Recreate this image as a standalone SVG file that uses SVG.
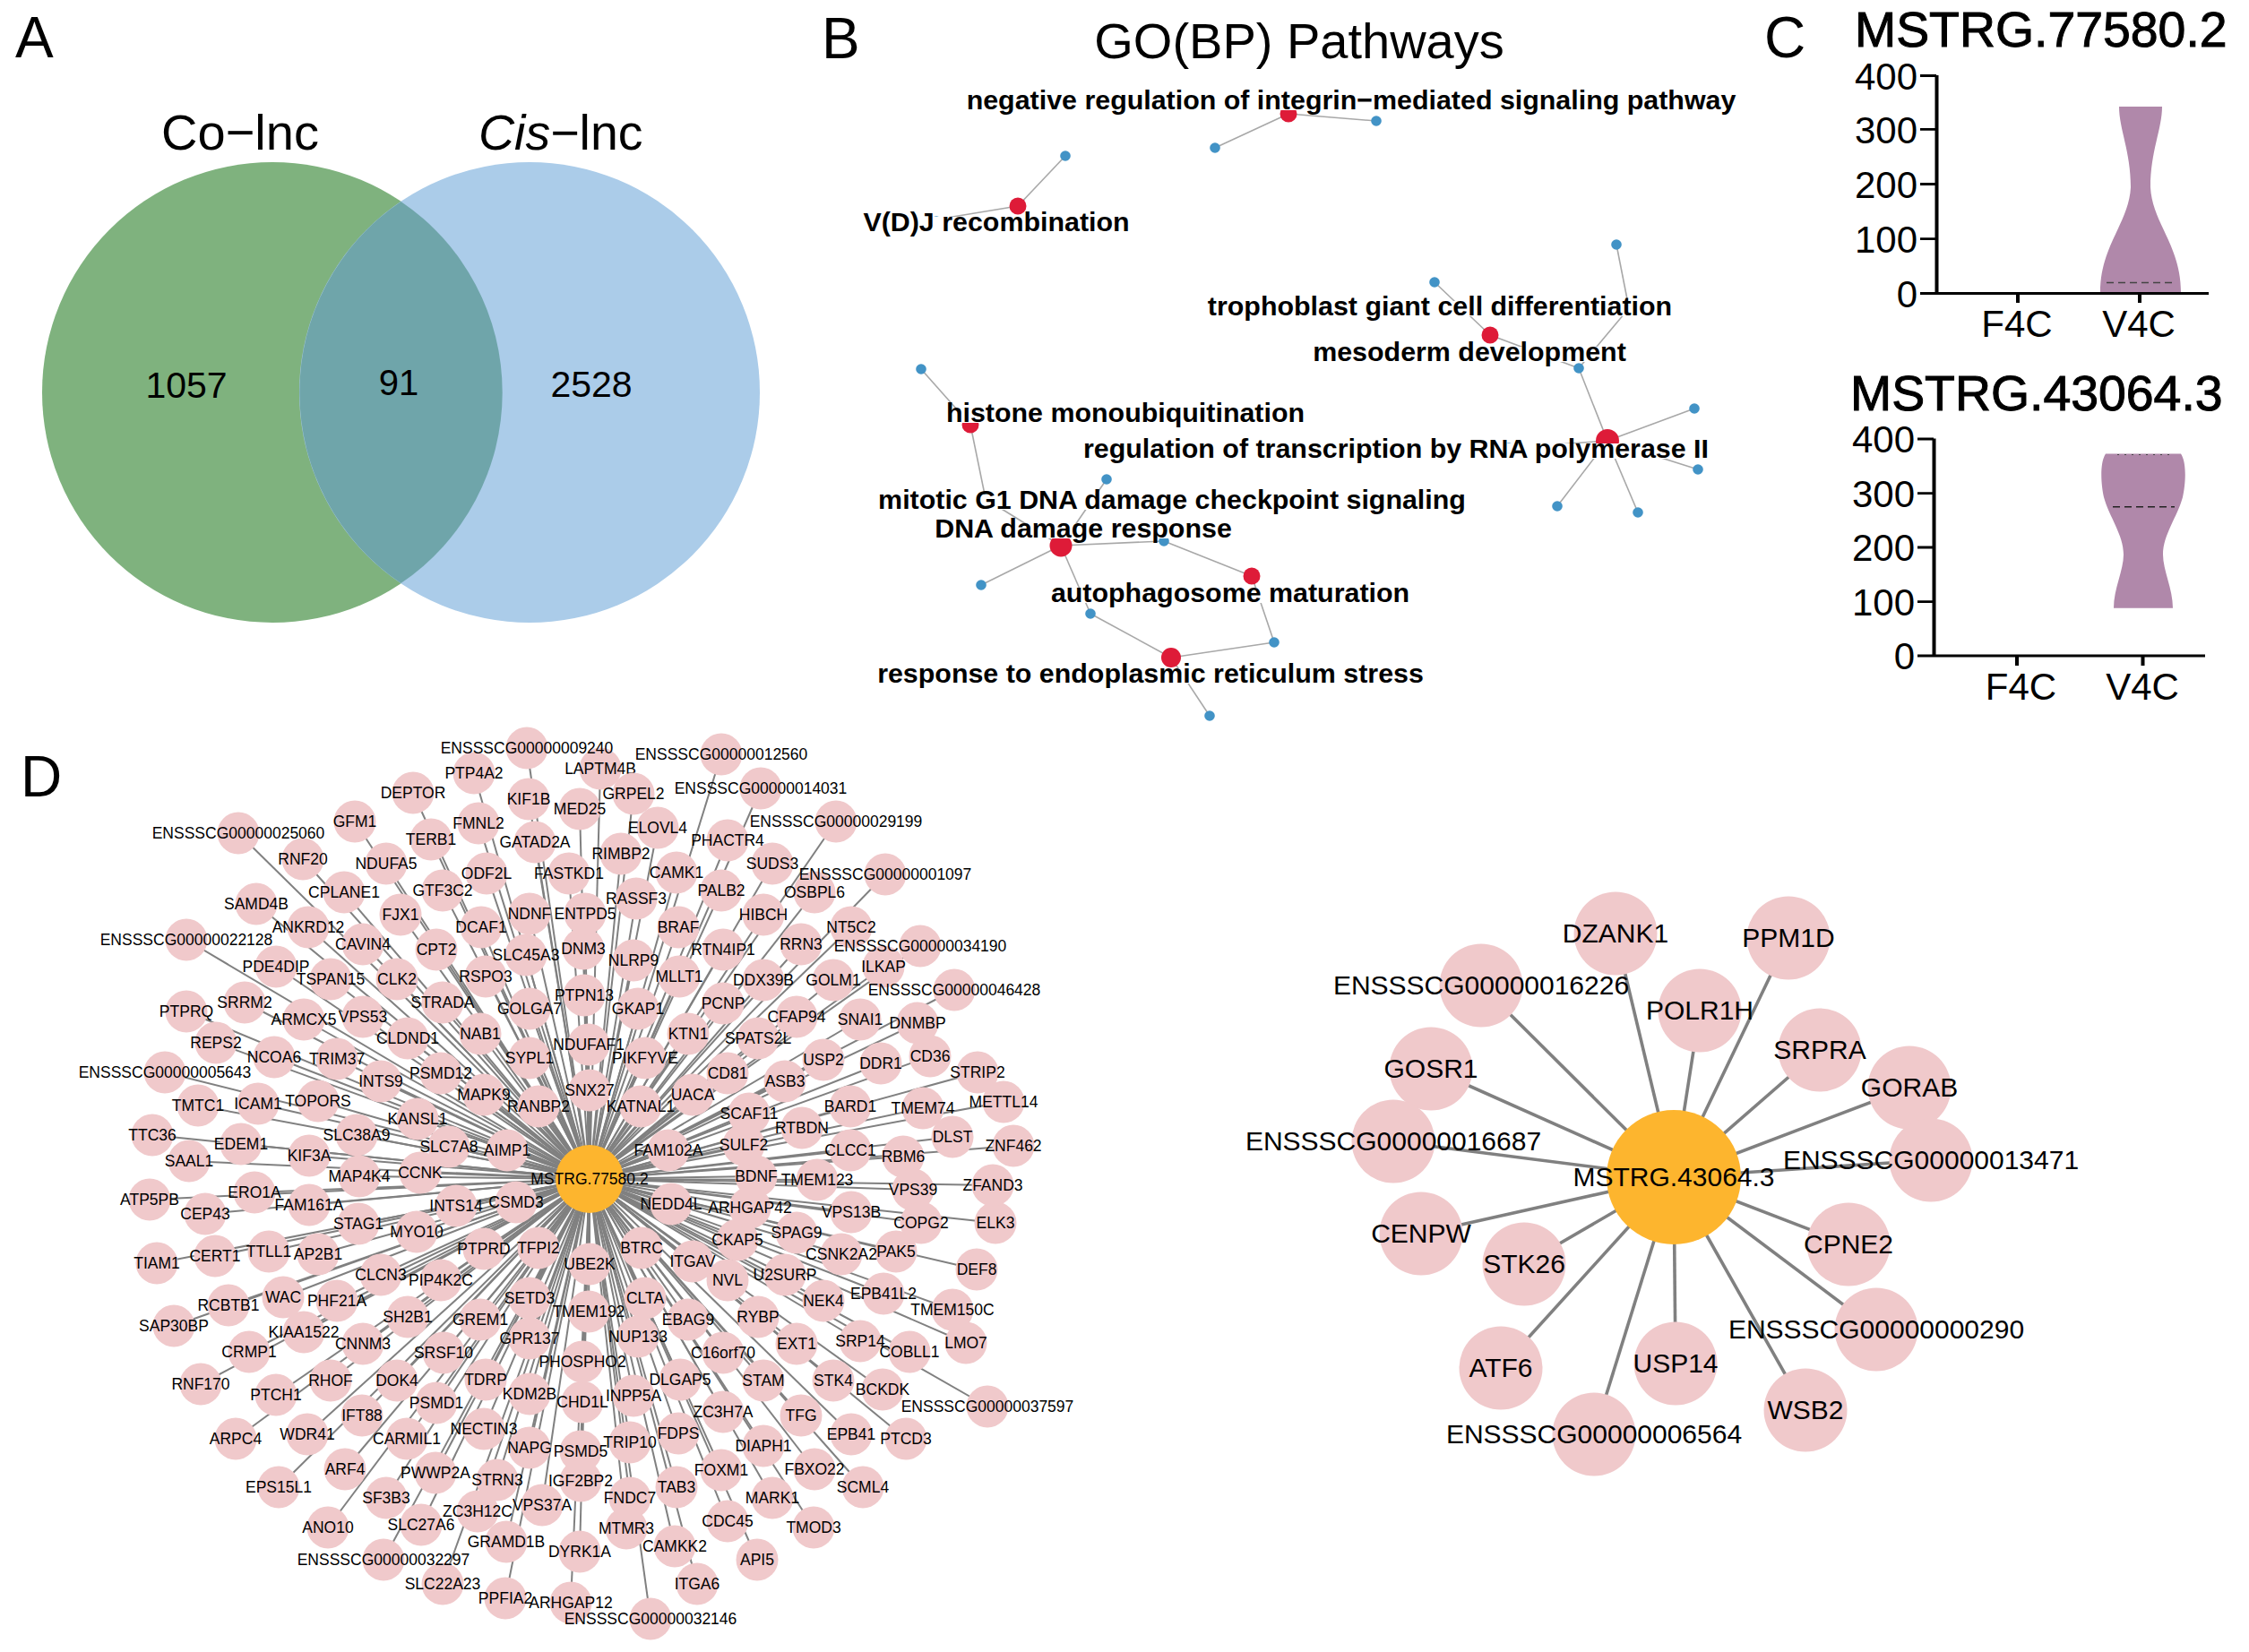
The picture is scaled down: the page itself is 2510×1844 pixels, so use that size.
<svg xmlns="http://www.w3.org/2000/svg" width="2510" height="1844" viewBox="0 0 2510 1844">
<style>
text{font-family:"Liberation Sans",Arial,sans-serif;fill:#000}
.big{font-size:64px}
.m{text-anchor:middle}
.e{text-anchor:end}
.ttl{font-size:55.400px;stroke:#000;stroke-width:1px}
.tk{font-size:42px}
.ax{stroke:#000;fill:none}
.vio{fill:#b088aa}
.gl{font-size:30.400px;font-weight:bold;text-anchor:middle}
.box{fill:#fff}
.ge line{stroke:#a8a8a8;stroke-width:1.6}
.red{fill:#de1b38}
.blu{fill:#4293c6}
.ce path{stroke:#808080;stroke-width:2;fill:none}
.ce2 path{stroke:#808080;stroke-width:3.600;fill:none}
.p{fill:#f0c9cb}
.o{fill:#fdb52e}
.s{font-size:17.500px;text-anchor:middle}
.l{font-size:30px;text-anchor:middle}
</style>
<rect width="2510" height="1844" fill="#fff"/>
<g id="panel-A">
<text class="big" x="17" y="64">A</text>
<circle cx="304" cy="438" r="257" fill="#7fb27e"/>
<circle cx="591" cy="438" r="257" fill="#abcce9"/>
<path d="M447.5 225A257 257 0 0 1 447.5 651A257 257 0 0 1 447.5 225Z" fill="#6fa5aa"/>
<text x="268" y="167" font-size="56" text-anchor="middle">Co−lnc</text>
<text x="534" y="167" font-size="55.500"><tspan font-style="italic">Cis</tspan>−lnc</text>
<text x="208" y="444" font-size="41" text-anchor="middle">1057</text>
<text x="445" y="441" font-size="40" text-anchor="middle">91</text>
<text x="660" y="443" font-size="41" text-anchor="middle">2528</text>
</g>
<g id="panel-B">
<text class="big" x="917" y="65">B</text>
<text x="1450" y="65" font-size="56" text-anchor="middle">GO(BP) Pathways</text>
<g id="go-connectors" class="ge">
<line x1="1438" y1="127" x2="1356" y2="165"/><line x1="1438" y1="127" x2="1536" y2="135"/>
<line x1="1136" y1="230" x2="1189" y2="174"/><line x1="1136" y1="230" x2="1045" y2="245"/>
<line x1="1663" y1="374" x2="1601" y2="315"/><line x1="1663" y1="374" x2="1762" y2="411"/>
<line x1="1818" y1="344" x2="1804" y2="273"/><line x1="1818" y1="344" x2="1762" y2="411"/>
<line x1="1794" y1="492" x2="1762" y2="411"/><line x1="1794" y1="492" x2="1891" y2="456"/><line x1="1794" y1="492" x2="1895" y2="524"/><line x1="1794" y1="492" x2="1738" y2="565"/><line x1="1794" y1="492" x2="1828" y2="572"/><line x1="1794" y1="492" x2="1684" y2="500"/>
<line x1="1083" y1="474" x2="1028" y2="412"/><line x1="1083" y1="474" x2="1100" y2="557"/>
<line x1="995" y1="561" x2="1100" y2="557"/>
<line x1="1184" y1="609" x2="1100" y2="557"/><line x1="1184" y1="609" x2="1235" y2="535"/><line x1="1184" y1="609" x2="1299" y2="604"/><line x1="1184" y1="609" x2="1095" y2="653"/><line x1="1184" y1="609" x2="1217" y2="685"/>
<line x1="1397" y1="643" x2="1299" y2="604"/><line x1="1397" y1="643" x2="1422" y2="717"/>
<line x1="1307" y1="734" x2="1217" y2="685"/><line x1="1307" y1="734" x2="1422" y2="717"/><line x1="1307" y1="734" x2="1350" y2="799"/>
</g>
<g id="go-nodes">
<g id="go-r1"><circle class="red" cx="1438" cy="127" r="9.5"/></g>
<g id="go-r2"><circle class="red" cx="1136" cy="230" r="9.5"/></g>
<g id="go-r3"><circle class="red" cx="1663" cy="374" r="9.5"/></g>
<g id="go-r4"><circle class="red" cx="1818" cy="344" r="7"/></g>
<g id="go-r5"><circle class="red" cx="1794" cy="492" r="13"/></g>
<g id="go-r6"><circle class="red" cx="1083" cy="474" r="9.5"/></g>
<g id="go-r7"><circle class="red" cx="995" cy="561" r="8"/></g>
<g id="go-r8"><circle class="red" cx="1184" cy="609" r="12.5"/></g>
<g id="go-r9"><circle class="red" cx="1397" cy="643" r="9.5"/></g>
<g id="go-r10"><circle class="red" cx="1307" cy="734" r="11"/></g>
<g id="go-b1"><circle class="blu" cx="1189" cy="174" r="5.8"/></g>
<g id="go-b2"><circle class="blu" cx="1356" cy="165" r="5.8"/></g>
<g id="go-b3"><circle class="blu" cx="1536" cy="135" r="5.8"/></g>
<g id="go-b4"><circle class="blu" cx="1045" cy="247" r="5.8"/></g>
<g id="go-b5"><circle class="blu" cx="1804" cy="273" r="5.8"/></g>
<g id="go-b6"><circle class="blu" cx="1601" cy="315" r="5.8"/></g>
<g id="go-b7"><circle class="blu" cx="1762" cy="411" r="5.8"/></g>
<g id="go-b8"><circle class="blu" cx="1891" cy="456" r="5.8"/></g>
<g id="go-b9"><circle class="blu" cx="1895" cy="524" r="5.8"/></g>
<g id="go-b10"><circle class="blu" cx="1738" cy="565" r="5.8"/></g>
<g id="go-b11"><circle class="blu" cx="1828" cy="572" r="5.8"/></g>
<g id="go-b12"><circle class="blu" cx="1684" cy="500" r="5.8"/></g>
<g id="go-b13"><circle class="blu" cx="1028" cy="412" r="5.8"/></g>
<g id="go-b14"><circle class="blu" cx="1100" cy="557" r="5.8"/></g>
<g id="go-b15"><circle class="blu" cx="1235" cy="535" r="5.8"/></g>
<g id="go-b16"><circle class="blu" cx="1299" cy="604" r="5.8"/></g>
<g id="go-b17"><circle class="blu" cx="1095" cy="653" r="5.8"/></g>
<g id="go-b18"><circle class="blu" cx="1217" cy="685" r="5.8"/></g>
<g id="go-b19"><circle class="blu" cx="1422" cy="717" r="5.8"/></g>
<g id="go-b20"><circle class="blu" cx="1350" cy="799" r="5.8"/></g>
</g>
<g id="go-labels">
<rect class="box" x="1080" y="106" width="867" height="17"/><text class="gl" x="1508" y="122">negative regulation of integrin−mediated signaling pathway</text>
<rect class="box" x="965" y="242" width="294" height="17"/><text class="gl" x="1112" y="258">V(D)J recombination</text>
<rect class="box" x="1350" y="336" width="514" height="17"/><text class="gl" x="1607" y="352">trophoblast giant cell differentiation</text>
<rect class="box" x="1466" y="387" width="347" height="17"/><text class="gl" x="1640" y="403">mesoderm development</text>
<rect class="box" x="1057" y="455" width="398" height="17"/><text class="gl" x="1256" y="471">histone monoubiquitination</text>
<rect class="box" x="1210" y="495" width="706" height="17"/><text class="gl" x="1558" y="511">regulation of transcription by RNA polymerase II</text>
<rect class="box" x="982" y="552" width="653" height="17"/><text class="gl" x="1308" y="568">mitotic G1 DNA damage checkpoint signaling</text>
<rect class="box" x="1043" y="584" width="331" height="17"/><text class="gl" x="1209" y="600">DNA damage response</text>
<rect class="box" x="1174" y="656" width="398" height="17"/><text class="gl" x="1373" y="672">autophagosome maturation</text>
<rect class="box" x="980" y="746" width="607" height="17"/><text class="gl" x="1284" y="762">response to endoplasmic reticulum stress</text>
</g>
</g>
<g id="panel-C">
<text class="big" x="1969" y="64">C</text>
<text class="ttl" x="2070" y="52">MSTRG.77580.2</text>
<path class="vio" d="M2365 119H2413C2413 144 2400 169 2400 209C2402 249 2434 274 2434 326H2344C2344 274 2376 249 2378 209C2378 169 2365 144 2365 119Z"/>
<path d="M2351 315.500H2428" stroke="#444" stroke-width="1.3" stroke-dasharray="8 5" fill="none"/>
<path class="ax" stroke-width="4" d="M2161.500 84V329"/>
<path class="ax" stroke-width="2.800" d="M2143 84.500H2161M2143 144.300H2161M2143 205.500H2161M2143 266.700H2161M2143 327.500H2465"/>
<path class="ax" stroke-width="4" d="M2252 327.500V338M2388 327.500V338"/>
<text class="tk e" x="2140" y="100">400</text><text class="tk e" x="2140" y="160">300</text><text class="tk e" x="2140" y="221">200</text><text class="tk e" x="2140" y="282">100</text><text class="tk e" x="2140" y="343">0</text>
<text class="tk m" x="2251" y="376">F4C</text><text class="tk m" x="2387" y="376">V4C</text>
<text class="ttl" x="2065" y="458">MSTRG.43064.3</text>
<path class="vio" d="M2350 506.500H2434C2441 517 2439 542 2436 555C2430 577 2414 597 2414 619C2414 637 2425 657 2425 678.700H2359C2359 657 2370 637 2370 619C2370 597 2354 577 2348 555C2345 542 2343 517 2350 506.500Z"/>
<path d="M2358 565.700H2427" stroke="#222" stroke-width="1.5" stroke-dasharray="8 5" fill="none"/>
<path d="M2363 507.500H2427" stroke="#444" stroke-width="1.2" stroke-dasharray="2 6" fill="none"/>
<path class="ax" stroke-width="4" d="M2158.500 489.500V733"/>
<path class="ax" stroke-width="2.800" d="M2140 490H2158M2140 550.700H2158M2140 611H2158M2140 671.700H2158M2140 732H2461"/>
<path class="ax" stroke-width="4" d="M2251 732V743M2391.500 732V743"/>
<text class="tk e" x="2137" y="505">400</text><text class="tk e" x="2137" y="566">300</text><text class="tk e" x="2137" y="626">200</text><text class="tk e" x="2137" y="687">100</text><text class="tk e" x="2137" y="747">0</text>
<text class="tk m" x="2255.500" y="781">F4C</text><text class="tk m" x="2391" y="781">V4C</text>
</g>
<text class="big" x="23" y="889">D</text>
<g id="net1-connectors" class="ce">
<path d="M658 1316L588 835"/><path d="M658 1316L529 863"/><path d="M658 1316L461 885"/><path d="M658 1316L590 892"/><path d="M658 1316L266 930"/><path d="M658 1316L396 917"/><path d="M658 1316L534 919"/><path d="M658 1316L481 937"/><path d="M658 1316L597 940"/><path d="M658 1316L338 959"/><path d="M658 1316L431 964"/><path d="M658 1316L543 975"/><path d="M658 1316L384 996"/><path d="M658 1316L494 994"/><path d="M658 1316L286 1009"/><path d="M658 1316L447 1021"/><path d="M658 1316L591 1020"/><path d="M658 1316L344 1035"/><path d="M658 1316L537 1035"/><path d="M658 1316L208 1049"/><path d="M658 1316L405 1054"/><path d="M658 1316L487 1060"/><path d="M658 1316L587 1066"/><path d="M658 1316L308 1079"/><path d="M658 1316L369 1093"/><path d="M658 1316L443 1093"/><path d="M658 1316L542 1090"/><path d="M658 1316L494 1119"/><path d="M658 1316L273 1119"/><path d="M658 1316L208 1129"/><path d="M658 1316L591 1126"/><path d="M658 1316L339 1138"/><path d="M658 1316L405 1135"/><path d="M658 1316L536 1154"/><path d="M658 1316L455 1159"/><path d="M658 1316L241 1164"/><path d="M658 1316L306 1180"/><path d="M658 1316L376 1182"/><path d="M658 1316L591 1181"/><path d="M658 1316L492 1198"/><path d="M658 1316L425 1207"/><path d="M658 1316L184 1197"/><path d="M658 1316L540 1222"/><path d="M658 1316L601 1235"/><path d="M658 1316L355 1229"/><path d="M658 1316L288 1232"/><path d="M658 1316L221 1234"/><path d="M658 1316L466 1249"/><path d="M658 1316L398 1267"/><path d="M658 1316L170 1267"/><path d="M658 1316L269 1277"/><path d="M658 1316L501 1280"/><path d="M658 1316L566 1284"/><path d="M658 1316L345 1290"/><path d="M658 1316L211 1296"/><path d="M658 1316L401 1313"/><path d="M658 1316L469 1309"/>
<path d="M658 1316L167 1339"/><path d="M658 1316L284 1331"/><path d="M658 1316L229 1355"/><path d="M658 1316L345 1345"/><path d="M658 1316L509 1346"/><path d="M658 1316L576 1342"/><path d="M658 1316L400 1366"/><path d="M658 1316L465 1375"/><path d="M658 1316L175 1410"/><path d="M658 1316L240 1402"/><path d="M658 1316L300 1397"/><path d="M658 1316L355 1400"/><path d="M658 1316L540 1394"/><path d="M658 1316L601 1393"/><path d="M658 1316L425 1423"/><path d="M658 1316L492 1429"/><path d="M658 1316L316 1448"/><path d="M658 1316L376 1452"/><path d="M658 1316L255 1457"/><path d="M658 1316L591 1449"/><path d="M658 1316L455 1470"/><path d="M658 1316L536 1473"/><path d="M658 1316L194 1480"/><path d="M658 1316L339 1487"/><path d="M658 1316L405 1500"/><path d="M658 1316L591 1494"/><path d="M658 1316L278 1509"/><path d="M658 1316L495 1510"/><path d="M658 1316L369 1541"/><path d="M658 1316L443 1541"/><path d="M658 1316L542 1540"/><path d="M658 1316L224 1545"/><path d="M658 1316L308 1557"/><path d="M658 1316L591 1556"/><path d="M658 1316L487 1566"/><path d="M658 1316L404 1580"/><path d="M658 1316L343 1601"/><path d="M658 1316L540 1595"/><path d="M658 1316L263 1606"/><path d="M658 1316L454 1606"/><path d="M658 1316L591 1616"/><path d="M658 1316L385 1640"/><path d="M658 1316L486 1644"/><path d="M658 1316L555 1652"/><path d="M658 1316L311 1660"/><path d="M658 1316L605 1680"/><path d="M658 1316L431 1672"/><path d="M658 1316L533 1687"/><path d="M658 1316L470 1702"/><path d="M658 1316L366 1705"/><path d="M658 1316L565 1721"/><path d="M658 1316L428 1741"/><path d="M658 1316L494 1768"/><path d="M658 1316L564 1784"/>
<path d="M658 1316L805 842"/><path d="M658 1316L670 858"/><path d="M658 1316L849 880"/><path d="M658 1316L707 886"/><path d="M658 1316L647 903"/><path d="M658 1316L933 917"/><path d="M658 1316L734 924"/><path d="M658 1316L812 938"/><path d="M658 1316L693 953"/><path d="M658 1316L862 964"/><path d="M658 1316L635 975"/><path d="M658 1316L755 974"/><path d="M658 1316L988 976"/><path d="M658 1316L805 994"/><path d="M658 1316L909 996"/><path d="M658 1316L710 1003"/><path d="M658 1316L653 1020"/><path d="M658 1316L852 1021"/><path d="M658 1316L950 1035"/><path d="M658 1316L757 1035"/><path d="M658 1316L894 1054"/><path d="M658 1316L1027 1056"/><path d="M658 1316L651 1059"/><path d="M658 1316L807 1060"/><path d="M658 1316L707 1072"/><path d="M658 1316L986 1079"/><path d="M658 1316L758 1090"/><path d="M658 1316L852 1094"/><path d="M658 1316L930 1094"/><path d="M658 1316L1065 1105"/><path d="M658 1316L652 1111"/><path d="M658 1316L807 1120"/><path d="M658 1316L712 1126"/><path d="M658 1316L889 1135"/><path d="M658 1316L960 1138"/><path d="M658 1316L1024 1142"/><path d="M658 1316L768 1154"/><path d="M658 1316L846 1159"/><path d="M658 1316L657 1166"/><path d="M658 1316L720 1181"/><path d="M658 1316L919 1183"/><path d="M658 1316L1038 1179"/><path d="M658 1316L983 1187"/><path d="M658 1316L812 1198"/><path d="M658 1316L1091 1197"/><path d="M658 1316L876 1207"/><path d="M658 1316L658 1217"/><path d="M658 1316L773 1222"/><path d="M658 1316L715 1235"/><path d="M658 1316L1120 1230"/><path d="M658 1316L949 1235"/><path d="M658 1316L1030 1237"/><path d="M658 1316L836 1243"/><path d="M658 1316L895 1259"/><path d="M658 1316L1063 1269"/><path d="M658 1316L1131 1279"/><path d="M658 1316L830 1278"/><path d="M658 1316L949 1284"/><path d="M658 1316L746 1284"/><path d="M658 1316L1008 1291"/><path d="M658 1316L844 1313"/><path d="M658 1316L912 1317"/><path d="M658 1316L1108 1323"/>
<path d="M658 1316L1019 1328"/><path d="M658 1316L749 1344"/><path d="M658 1316L837 1348"/><path d="M658 1316L950 1353"/><path d="M658 1316L1028 1365"/><path d="M658 1316L1111 1365"/><path d="M658 1316L889 1376"/><path d="M658 1316L823 1384"/><path d="M658 1316L716 1393"/><path d="M658 1316L939 1400"/><path d="M658 1316L1000 1397"/><path d="M658 1316L773 1408"/><path d="M658 1316L1090 1417"/><path d="M658 1316L658 1411"/><path d="M658 1316L812 1429"/><path d="M658 1316L876 1423"/><path d="M658 1316L919 1452"/><path d="M658 1316L986 1444"/><path d="M658 1316L1063 1462"/><path d="M658 1316L720 1449"/><path d="M658 1316L657 1464"/><path d="M658 1316L768 1473"/><path d="M658 1316L846 1470"/><path d="M658 1316L712 1492"/><path d="M658 1316L889 1500"/><path d="M658 1316L960 1497"/><path d="M658 1316L1078 1499"/><path d="M658 1316L1015 1509"/><path d="M658 1316L807 1510"/><path d="M658 1316L650 1520"/><path d="M658 1316L759 1540"/><path d="M658 1316L852 1541"/><path d="M658 1316L930 1541"/><path d="M658 1316L985 1551"/><path d="M658 1316L707 1558"/><path d="M658 1316L1102 1570"/><path d="M658 1316L650 1565"/><path d="M658 1316L807 1576"/><path d="M658 1316L894 1580"/><path d="M658 1316L950 1601"/><path d="M658 1316L1011 1606"/><path d="M658 1316L757 1600"/><path d="M658 1316L648 1620"/><path d="M658 1316L703 1610"/><path d="M658 1316L852 1614"/><path d="M658 1316L805 1641"/><path d="M658 1316L909 1640"/><path d="M658 1316L648 1653"/><path d="M658 1316L963 1660"/><path d="M658 1316L755 1660"/><path d="M658 1316L703 1672"/><path d="M658 1316L862 1672"/><path d="M658 1316L812 1698"/><path d="M658 1316L908 1705"/><path d="M658 1316L699 1706"/><path d="M658 1316L753 1726"/><path d="M658 1316L647 1732"/><path d="M658 1316L845 1741"/><path d="M658 1316L778 1768"/><path d="M658 1316L637 1789"/><path d="M658 1316L726 1807"/>
</g>
<g id="net1-nodes">
<g id="n-LAPTM4B"><circle class="p" cx="670" cy="858" r="23.500"/><text class="s" x="670" y="864">LAPTM4B</text></g>
<g id="n-NVL"><circle class="p" cx="812" cy="1429" r="23.500"/><text class="s" x="812" y="1435">NVL</text></g>
<g id="n-TFG"><circle class="p" cx="894" cy="1580" r="23.500"/><text class="s" x="894" y="1586">TFG</text></g>
<g id="n-WAC"><circle class="p" cx="316" cy="1448" r="23.500"/><text class="s" x="316" y="1454">WAC</text></g>
<g id="n-GFM1"><circle class="p" cx="396" cy="917" r="23.500"/><text class="s" x="396" y="923">GFM1</text></g>
<g id="n-CPT2"><circle class="p" cx="487" cy="1060" r="23.500"/><text class="s" x="487" y="1066">CPT2</text></g>
<g id="n-CLK2"><circle class="p" cx="443" cy="1093" r="23.500"/><text class="s" x="443" y="1099">CLK2</text></g>
<g id="n-FJX1"><circle class="p" cx="447" cy="1021" r="23.500"/><text class="s" x="447" y="1027">FJX1</text></g>
<g id="n-NAB1"><circle class="p" cx="536" cy="1154" r="23.500"/><text class="s" x="536" y="1160">NAB1</text></g>
<g id="n-NDNF"><circle class="p" cx="591" cy="1020" r="23.500"/><text class="s" x="591" y="1026">NDNF</text></g>
<g id="n-CCNK"><circle class="p" cx="469" cy="1309" r="23.500"/><text class="s" x="469" y="1315">CCNK</text></g>
<g id="n-RHOF"><circle class="p" cx="369" cy="1541" r="23.500"/><text class="s" x="369" y="1547">RHOF</text></g>
<g id="n-DOK4"><circle class="p" cx="443" cy="1541" r="23.500"/><text class="s" x="443" y="1547">DOK4</text></g>
<g id="n-TDRP"><circle class="p" cx="542" cy="1540" r="23.500"/><text class="s" x="542" y="1546">TDRP</text></g>
<g id="n-NAPG"><circle class="p" cx="591" cy="1616" r="23.500"/><text class="s" x="591" y="1622">NAPG</text></g>
<g id="n-ARF4"><circle class="p" cx="385" cy="1640" r="23.500"/><text class="s" x="385" y="1646">ARF4</text></g>
<g id="n-BRAF"><circle class="p" cx="757" cy="1035" r="23.500"/><text class="s" x="757" y="1041">BRAF</text></g>
<g id="n-RRN3"><circle class="p" cx="894" cy="1054" r="23.500"/><text class="s" x="894" y="1060">RRN3</text></g>
<g id="n-DNM3"><circle class="p" cx="651" cy="1059" r="23.500"/><text class="s" x="651" y="1065">DNM3</text></g>
<g id="n-PCNP"><circle class="p" cx="807" cy="1120" r="23.500"/><text class="s" x="807" y="1126">PCNP</text></g>
<g id="n-KTN1"><circle class="p" cx="768" cy="1154" r="23.500"/><text class="s" x="768" y="1160">KTN1</text></g>
<g id="n-USP2"><circle class="p" cx="919" cy="1183" r="23.500"/><text class="s" x="919" y="1189">USP2</text></g>
<g id="n-CD36"><circle class="p" cx="1038" cy="1179" r="23.500"/><text class="s" x="1038" y="1185">CD36</text></g>
<g id="n-DDR1"><circle class="p" cx="983" cy="1187" r="23.500"/><text class="s" x="983" y="1193">DDR1</text></g>
<g id="n-CD81"><circle class="p" cx="812" cy="1198" r="23.500"/><text class="s" x="812" y="1204">CD81</text></g>
<g id="n-ASB3"><circle class="p" cx="876" cy="1207" r="23.500"/><text class="s" x="876" y="1213">ASB3</text></g>
<g id="n-UACA"><circle class="p" cx="773" cy="1222" r="23.500"/><text class="s" x="773" y="1228">UACA</text></g>
<g id="n-DLST"><circle class="p" cx="1063" cy="1269" r="23.500"/><text class="s" x="1063" y="1275">DLST</text></g>
<g id="n-RBM6"><circle class="p" cx="1008" cy="1291" r="23.500"/><text class="s" x="1008" y="1297">RBM6</text></g>
<g id="n-BDNF"><circle class="p" cx="844" cy="1313" r="23.500"/><text class="s" x="844" y="1319">BDNF</text></g>
<g id="n-ELK3"><circle class="p" cx="1111" cy="1365" r="23.500"/><text class="s" x="1111" y="1371">ELK3</text></g>
<g id="n-BTRC"><circle class="p" cx="716" cy="1393" r="23.500"/><text class="s" x="716" y="1399">BTRC</text></g>
<g id="n-PAK5"><circle class="p" cx="1000" cy="1397" r="23.500"/><text class="s" x="1000" y="1403">PAK5</text></g>
<g id="n-DEF8"><circle class="p" cx="1090" cy="1417" r="23.500"/><text class="s" x="1090" y="1423">DEF8</text></g>
<g id="n-NEK4"><circle class="p" cx="919" cy="1452" r="23.500"/><text class="s" x="919" y="1458">NEK4</text></g>
<g id="n-CLTA"><circle class="p" cx="720" cy="1449" r="23.500"/><text class="s" x="720" y="1455">CLTA</text></g>
<g id="n-RYBP"><circle class="p" cx="846" cy="1470" r="23.500"/><text class="s" x="846" y="1476">RYBP</text></g>
<g id="n-EXT1"><circle class="p" cx="889" cy="1500" r="23.500"/><text class="s" x="889" y="1506">EXT1</text></g>
<g id="n-LMO7"><circle class="p" cx="1078" cy="1499" r="23.500"/><text class="s" x="1078" y="1505">LMO7</text></g>
<g id="n-STAM"><circle class="p" cx="852" cy="1541" r="23.500"/><text class="s" x="852" y="1547">STAM</text></g>
<g id="n-STK4"><circle class="p" cx="930" cy="1541" r="23.500"/><text class="s" x="930" y="1547">STK4</text></g>
<g id="n-FDPS"><circle class="p" cx="757" cy="1600" r="23.500"/><text class="s" x="757" y="1606">FDPS</text></g>
<g id="n-TAB3"><circle class="p" cx="755" cy="1660" r="23.500"/><text class="s" x="755" y="1666">TAB3</text></g>
<g id="n-API5"><circle class="p" cx="845" cy="1741" r="23.500"/><text class="s" x="845" y="1747">API5</text></g>
<g id="n-KIF1B"><circle class="p" cx="590" cy="892" r="23.500"/><text class="s" x="590" y="898">KIF1B</text></g>
<g id="n-FMNL2"><circle class="p" cx="534" cy="919" r="23.500"/><text class="s" x="534" y="925">FMNL2</text></g>
<g id="n-TERB1"><circle class="p" cx="481" cy="937" r="23.500"/><text class="s" x="481" y="943">TERB1</text></g>
<g id="n-RNF20"><circle class="p" cx="338" cy="959" r="23.500"/><text class="s" x="338" y="965">RNF20</text></g>
<g id="n-ODF2L"><circle class="p" cx="543" cy="975" r="23.500"/><text class="s" x="543" y="981">ODF2L</text></g>
<g id="n-DCAF1"><circle class="p" cx="537" cy="1035" r="23.500"/><text class="s" x="537" y="1041">DCAF1</text></g>
<g id="n-RSPO3"><circle class="p" cx="542" cy="1090" r="23.500"/><text class="s" x="542" y="1096">RSPO3</text></g>
<g id="n-SRRM2"><circle class="p" cx="273" cy="1119" r="23.500"/><text class="s" x="273" y="1125">SRRM2</text></g>
<g id="n-PTPRQ"><circle class="p" cx="208" cy="1129" r="23.500"/><text class="s" x="208" y="1135">PTPRQ</text></g>
<g id="n-VPS53"><circle class="p" cx="405" cy="1135" r="23.500"/><text class="s" x="405" y="1141">VPS53</text></g>
<g id="n-REPS2"><circle class="p" cx="241" cy="1164" r="23.500"/><text class="s" x="241" y="1170">REPS2</text></g>
<g id="n-NCOA6"><circle class="p" cx="306" cy="1180" r="23.500"/><text class="s" x="306" y="1186">NCOA6</text></g>
<g id="n-SYPL1"><circle class="p" cx="591" cy="1181" r="23.500"/><text class="s" x="591" y="1187">SYPL1</text></g>
<g id="n-INTS9"><circle class="p" cx="425" cy="1207" r="23.500"/><text class="s" x="425" y="1213">INTS9</text></g>
<g id="n-MAPK9"><circle class="p" cx="540" cy="1222" r="23.500"/><text class="s" x="540" y="1228">MAPK9</text></g>
<g id="n-ICAM1"><circle class="p" cx="288" cy="1232" r="23.500"/><text class="s" x="288" y="1238">ICAM1</text></g>
<g id="n-TMTC1"><circle class="p" cx="221" cy="1234" r="23.500"/><text class="s" x="221" y="1240">TMTC1</text></g>
<g id="n-TTC36"><circle class="p" cx="170" cy="1267" r="23.500"/><text class="s" x="170" y="1273">TTC36</text></g>
<g id="n-EDEM1"><circle class="p" cx="269" cy="1277" r="23.500"/><text class="s" x="269" y="1283">EDEM1</text></g>
<g id="n-AIMP1"><circle class="p" cx="566" cy="1284" r="23.500"/><text class="s" x="566" y="1290">AIMP1</text></g>
<g id="n-KIF3A"><circle class="p" cx="345" cy="1290" r="23.500"/><text class="s" x="345" y="1296">KIF3A</text></g>
<g id="n-SAAL1"><circle class="p" cx="211" cy="1296" r="23.500"/><text class="s" x="211" y="1302">SAAL1</text></g>
<g id="n-ERO1A"><circle class="p" cx="284" cy="1331" r="23.500"/><text class="s" x="284" y="1337">ERO1A</text></g>
<g id="n-CEP43"><circle class="p" cx="229" cy="1355" r="23.500"/><text class="s" x="229" y="1361">CEP43</text></g>
<g id="n-CSMD3"><circle class="p" cx="576" cy="1342" r="23.500"/><text class="s" x="576" y="1348">CSMD3</text></g>
<g id="n-STAG1"><circle class="p" cx="400" cy="1366" r="23.500"/><text class="s" x="400" y="1372">STAG1</text></g>
<g id="n-MYO10"><circle class="p" cx="465" cy="1375" r="23.500"/><text class="s" x="465" y="1381">MYO10</text></g>
<g id="n-TIAM1"><circle class="p" cx="175" cy="1410" r="23.500"/><text class="s" x="175" y="1416">TIAM1</text></g>
<g id="n-CERT1"><circle class="p" cx="240" cy="1402" r="23.500"/><text class="s" x="240" y="1408">CERT1</text></g>
<g id="n-TTLL1"><circle class="p" cx="300" cy="1397" r="23.500"/><text class="s" x="300" y="1403">TTLL1</text></g>
<g id="n-AP2B1"><circle class="p" cx="355" cy="1400" r="23.500"/><text class="s" x="355" y="1406">AP2B1</text></g>
<g id="n-PTPRD"><circle class="p" cx="540" cy="1394" r="23.500"/><text class="s" x="540" y="1400">PTPRD</text></g>
<g id="n-TFPI2"><circle class="p" cx="601" cy="1393" r="23.500"/><text class="s" x="601" y="1399">TFPI2</text></g>
<g id="n-CLCN3"><circle class="p" cx="425" cy="1423" r="23.500"/><text class="s" x="425" y="1429">CLCN3</text></g>
<g id="n-SETD3"><circle class="p" cx="591" cy="1449" r="23.500"/><text class="s" x="591" y="1455">SETD3</text></g>
<g id="n-SH2B1"><circle class="p" cx="455" cy="1470" r="23.500"/><text class="s" x="455" y="1476">SH2B1</text></g>
<g id="n-GREM1"><circle class="p" cx="536" cy="1473" r="23.500"/><text class="s" x="536" y="1479">GREM1</text></g>
<g id="n-CRMP1"><circle class="p" cx="278" cy="1509" r="23.500"/><text class="s" x="278" y="1515">CRMP1</text></g>
<g id="n-PTCH1"><circle class="p" cx="308" cy="1557" r="23.500"/><text class="s" x="308" y="1563">PTCH1</text></g>
<g id="n-KDM2B"><circle class="p" cx="591" cy="1556" r="23.500"/><text class="s" x="591" y="1562">KDM2B</text></g>
<g id="n-PSMD1"><circle class="p" cx="487" cy="1566" r="23.500"/><text class="s" x="487" y="1572">PSMD1</text></g>
<g id="n-IFT88"><circle class="p" cx="404" cy="1580" r="23.500"/><text class="s" x="404" y="1586">IFT88</text></g>
<g id="n-WDR41"><circle class="p" cx="343" cy="1601" r="23.500"/><text class="s" x="343" y="1607">WDR41</text></g>
<g id="n-ARPC4"><circle class="p" cx="263" cy="1606" r="23.500"/><text class="s" x="263" y="1612">ARPC4</text></g>
<g id="n-STRN3"><circle class="p" cx="555" cy="1652" r="23.500"/><text class="s" x="555" y="1658">STRN3</text></g>
<g id="n-SF3B3"><circle class="p" cx="431" cy="1672" r="23.500"/><text class="s" x="431" y="1678">SF3B3</text></g>
<g id="n-ANO10"><circle class="p" cx="366" cy="1705" r="23.500"/><text class="s" x="366" y="1711">ANO10</text></g>
<g id="n-MED25"><circle class="p" cx="647" cy="903" r="23.500"/><text class="s" x="647" y="909">MED25</text></g>
<g id="n-SUDS3"><circle class="p" cx="862" cy="964" r="23.500"/><text class="s" x="862" y="970">SUDS3</text></g>
<g id="n-CAMK1"><circle class="p" cx="755" cy="974" r="23.500"/><text class="s" x="755" y="980">CAMK1</text></g>
<g id="n-PALB2"><circle class="p" cx="805" cy="994" r="23.500"/><text class="s" x="805" y="1000">PALB2</text></g>
<g id="n-HIBCH"><circle class="p" cx="852" cy="1021" r="23.500"/><text class="s" x="852" y="1027">HIBCH</text></g>
<g id="n-NT5C2"><circle class="p" cx="950" cy="1035" r="23.500"/><text class="s" x="950" y="1041">NT5C2</text></g>
<g id="n-NLRP9"><circle class="p" cx="707" cy="1072" r="23.500"/><text class="s" x="707" y="1078">NLRP9</text></g>
<g id="n-ILKAP"><circle class="p" cx="986" cy="1079" r="23.500"/><text class="s" x="986" y="1085">ILKAP</text></g>
<g id="n-MLLT1"><circle class="p" cx="758" cy="1090" r="23.500"/><text class="s" x="758" y="1096">MLLT1</text></g>
<g id="n-GOLM1"><circle class="p" cx="930" cy="1094" r="23.500"/><text class="s" x="930" y="1100">GOLM1</text></g>
<g id="n-GKAP1"><circle class="p" cx="712" cy="1126" r="23.500"/><text class="s" x="712" y="1132">GKAP1</text></g>
<g id="n-SNAI1"><circle class="p" cx="960" cy="1138" r="23.500"/><text class="s" x="960" y="1144">SNAI1</text></g>
<g id="n-SNX27"><circle class="p" cx="658" cy="1217" r="23.500"/><text class="s" x="658" y="1223">SNX27</text></g>
<g id="n-BARD1"><circle class="p" cx="949" cy="1235" r="23.500"/><text class="s" x="949" y="1241">BARD1</text></g>
<g id="n-RTBDN"><circle class="p" cx="895" cy="1259" r="23.500"/><text class="s" x="895" y="1265">RTBDN</text></g>
<g id="n-SULF2"><circle class="p" cx="830" cy="1278" r="23.500"/><text class="s" x="830" y="1284">SULF2</text></g>
<g id="n-CLCC1"><circle class="p" cx="949" cy="1284" r="23.500"/><text class="s" x="949" y="1290">CLCC1</text></g>
<g id="n-VPS39"><circle class="p" cx="1019" cy="1328" r="23.500"/><text class="s" x="1019" y="1334">VPS39</text></g>
<g id="n-COPG2"><circle class="p" cx="1028" cy="1365" r="23.500"/><text class="s" x="1028" y="1371">COPG2</text></g>
<g id="n-SPAG9"><circle class="p" cx="889" cy="1376" r="23.500"/><text class="s" x="889" y="1382">SPAG9</text></g>
<g id="n-CKAP5"><circle class="p" cx="823" cy="1384" r="23.500"/><text class="s" x="823" y="1390">CKAP5</text></g>
<g id="n-ITGAV"><circle class="p" cx="773" cy="1408" r="23.500"/><text class="s" x="773" y="1414">ITGAV</text></g>
<g id="n-UBE2K"><circle class="p" cx="658" cy="1411" r="23.500"/><text class="s" x="658" y="1417">UBE2K</text></g>
<g id="n-EBAG9"><circle class="p" cx="768" cy="1473" r="23.500"/><text class="s" x="768" y="1479">EBAG9</text></g>
<g id="n-SRP14"><circle class="p" cx="960" cy="1497" r="23.500"/><text class="s" x="960" y="1503">SRP14</text></g>
<g id="n-BCKDK"><circle class="p" cx="985" cy="1551" r="23.500"/><text class="s" x="985" y="1557">BCKDK</text></g>
<g id="n-CHD1L"><circle class="p" cx="650" cy="1565" r="23.500"/><text class="s" x="650" y="1571">CHD1L</text></g>
<g id="n-EPB41"><circle class="p" cx="950" cy="1601" r="23.500"/><text class="s" x="950" y="1607">EPB41</text></g>
<g id="n-PTCD3"><circle class="p" cx="1011" cy="1606" r="23.500"/><text class="s" x="1011" y="1612">PTCD3</text></g>
<g id="n-PSMD5"><circle class="p" cx="648" cy="1620" r="23.500"/><text class="s" x="648" y="1626">PSMD5</text></g>
<g id="n-FOXM1"><circle class="p" cx="805" cy="1641" r="23.500"/><text class="s" x="805" y="1647">FOXM1</text></g>
<g id="n-SCML4"><circle class="p" cx="963" cy="1660" r="23.500"/><text class="s" x="963" y="1666">SCML4</text></g>
<g id="n-FNDC7"><circle class="p" cx="703" cy="1672" r="23.500"/><text class="s" x="703" y="1678">FNDC7</text></g>
<g id="n-MARK1"><circle class="p" cx="862" cy="1672" r="23.500"/><text class="s" x="862" y="1678">MARK1</text></g>
<g id="n-CDC45"><circle class="p" cx="812" cy="1698" r="23.500"/><text class="s" x="812" y="1704">CDC45</text></g>
<g id="n-TMOD3"><circle class="p" cx="908" cy="1705" r="23.500"/><text class="s" x="908" y="1711">TMOD3</text></g>
<g id="n-MTMR3"><circle class="p" cx="699" cy="1706" r="23.500"/><text class="s" x="699" y="1712">MTMR3</text></g>
<g id="n-ITGA6"><circle class="p" cx="778" cy="1768" r="23.500"/><text class="s" x="778" y="1774">ITGA6</text></g>
<g id="n-PTP4A2"><circle class="p" cx="529" cy="863" r="23.500"/><text class="s" x="529" y="869">PTP4A2</text></g>
<g id="n-DEPTOR"><circle class="p" cx="461" cy="885" r="23.500"/><text class="s" x="461" y="891">DEPTOR</text></g>
<g id="n-NDUFA5"><circle class="p" cx="431" cy="964" r="23.500"/><text class="s" x="431" y="970">NDUFA5</text></g>
<g id="n-GTF3C2"><circle class="p" cx="494" cy="994" r="23.500"/><text class="s" x="494" y="1000">GTF3C2</text></g>
<g id="n-SAMD4B"><circle class="p" cx="286" cy="1009" r="23.500"/><text class="s" x="286" y="1015">SAMD4B</text></g>
<g id="n-CAVIN4"><circle class="p" cx="405" cy="1054" r="23.500"/><text class="s" x="405" y="1060">CAVIN4</text></g>
<g id="n-STRADA"><circle class="p" cx="494" cy="1119" r="23.500"/><text class="s" x="494" y="1125">STRADA</text></g>
<g id="n-GOLGA7"><circle class="p" cx="591" cy="1126" r="23.500"/><text class="s" x="591" y="1132">GOLGA7</text></g>
<g id="n-ARMCX5"><circle class="p" cx="339" cy="1138" r="23.500"/><text class="s" x="339" y="1144">ARMCX5</text></g>
<g id="n-CLDND1"><circle class="p" cx="455" cy="1159" r="23.500"/><text class="s" x="455" y="1165">CLDND1</text></g>
<g id="n-TRIM37"><circle class="p" cx="376" cy="1182" r="23.500"/><text class="s" x="376" y="1188">TRIM37</text></g>
<g id="n-PSMD12"><circle class="p" cx="492" cy="1198" r="23.500"/><text class="s" x="492" y="1204">PSMD12</text></g>
<g id="n-RANBP2"><circle class="p" cx="601" cy="1235" r="23.500"/><text class="s" x="601" y="1241">RANBP2</text></g>
<g id="n-TOPORS"><circle class="p" cx="355" cy="1229" r="23.500"/><text class="s" x="355" y="1235">TOPORS</text></g>
<g id="n-KANSL1"><circle class="p" cx="466" cy="1249" r="23.500"/><text class="s" x="466" y="1255">KANSL1</text></g>
<g id="n-SLC7A8"><circle class="p" cx="501" cy="1280" r="23.500"/><text class="s" x="501" y="1286">SLC7A8</text></g>
<g id="n-MAP4K4"><circle class="p" cx="401" cy="1313" r="23.500"/><text class="s" x="401" y="1319">MAP4K4</text></g>
<g id="n-ATP5PB"><circle class="p" cx="167" cy="1339" r="23.500"/><text class="s" x="167" y="1345">ATP5PB</text></g>
<g id="n-INTS14"><circle class="p" cx="509" cy="1346" r="23.500"/><text class="s" x="509" y="1352">INTS14</text></g>
<g id="n-PHF21A"><circle class="p" cx="376" cy="1452" r="23.500"/><text class="s" x="376" y="1458">PHF21A</text></g>
<g id="n-RCBTB1"><circle class="p" cx="255" cy="1457" r="23.500"/><text class="s" x="255" y="1463">RCBTB1</text></g>
<g id="n-CNNM3"><circle class="p" cx="405" cy="1500" r="23.500"/><text class="s" x="405" y="1506">CNNM3</text></g>
<g id="n-GPR137"><circle class="p" cx="591" cy="1494" r="23.500"/><text class="s" x="591" y="1500">GPR137</text></g>
<g id="n-SRSF10"><circle class="p" cx="495" cy="1510" r="23.500"/><text class="s" x="495" y="1516">SRSF10</text></g>
<g id="n-RNF170"><circle class="p" cx="224" cy="1545" r="23.500"/><text class="s" x="224" y="1551">RNF170</text></g>
<g id="n-PWWP2A"><circle class="p" cx="486" cy="1644" r="23.500"/><text class="s" x="486" y="1650">PWWP2A</text></g>
<g id="n-VPS37A"><circle class="p" cx="605" cy="1680" r="23.500"/><text class="s" x="605" y="1686">VPS37A</text></g>
<g id="n-PPFIA2"><circle class="p" cx="564" cy="1784" r="23.500"/><text class="s" x="564" y="1790">PPFIA2</text></g>
<g id="n-GRPEL2"><circle class="p" cx="707" cy="886" r="23.500"/><text class="s" x="707" y="892">GRPEL2</text></g>
<g id="n-ELOVL4"><circle class="p" cx="734" cy="924" r="23.500"/><text class="s" x="734" y="930">ELOVL4</text></g>
<g id="n-RIMBP2"><circle class="p" cx="693" cy="953" r="23.500"/><text class="s" x="693" y="959">RIMBP2</text></g>
<g id="n-RASSF3"><circle class="p" cx="710" cy="1003" r="23.500"/><text class="s" x="710" y="1009">RASSF3</text></g>
<g id="n-ENTPD5"><circle class="p" cx="653" cy="1020" r="23.500"/><text class="s" x="653" y="1026">ENTPD5</text></g>
<g id="n-OSBPL6"><circle class="p" cx="909" cy="996" r="23.500"/><text class="s" x="909" y="1002">OSBPL6</text></g>
<g id="n-DDX39B"><circle class="p" cx="852" cy="1094" r="23.500"/><text class="s" x="852" y="1100">DDX39B</text></g>
<g id="n-PTPN13"><circle class="p" cx="652" cy="1111" r="23.500"/><text class="s" x="652" y="1117">PTPN13</text></g>
<g id="n-CFAP94"><circle class="p" cx="889" cy="1135" r="23.500"/><text class="s" x="889" y="1141">CFAP94</text></g>
<g id="n-DNMBP"><circle class="p" cx="1024" cy="1142" r="23.500"/><text class="s" x="1024" y="1148">DNMBP</text></g>
<g id="n-STRIP2"><circle class="p" cx="1091" cy="1197" r="23.500"/><text class="s" x="1091" y="1203">STRIP2</text></g>
<g id="n-TMEM74"><circle class="p" cx="1030" cy="1237" r="23.500"/><text class="s" x="1030" y="1243">TMEM74</text></g>
<g id="n-SCAF11"><circle class="p" cx="836" cy="1243" r="23.500"/><text class="s" x="836" y="1249">SCAF11</text></g>
<g id="n-ZNF462"><circle class="p" cx="1131" cy="1279" r="23.500"/><text class="s" x="1131" y="1285">ZNF462</text></g>
<g id="n-ZFAND3"><circle class="p" cx="1108" cy="1323" r="23.500"/><text class="s" x="1108" y="1329">ZFAND3</text></g>
<g id="n-NEDD4L"><circle class="p" cx="749" cy="1344" r="23.500"/><text class="s" x="749" y="1350">NEDD4L</text></g>
<g id="n-VPS13B"><circle class="p" cx="950" cy="1353" r="23.500"/><text class="s" x="950" y="1359">VPS13B</text></g>
<g id="n-U2SURP"><circle class="p" cx="876" cy="1423" r="23.500"/><text class="s" x="876" y="1429">U2SURP</text></g>
<g id="n-NUP133"><circle class="p" cx="712" cy="1492" r="23.500"/><text class="s" x="712" y="1498">NUP133</text></g>
<g id="n-COBLL1"><circle class="p" cx="1015" cy="1509" r="23.500"/><text class="s" x="1015" y="1515">COBLL1</text></g>
<g id="n-DLGAP5"><circle class="p" cx="759" cy="1540" r="23.500"/><text class="s" x="759" y="1546">DLGAP5</text></g>
<g id="n-INPP5A"><circle class="p" cx="707" cy="1558" r="23.500"/><text class="s" x="707" y="1564">INPP5A</text></g>
<g id="n-ZC3H7A"><circle class="p" cx="807" cy="1576" r="23.500"/><text class="s" x="807" y="1582">ZC3H7A</text></g>
<g id="n-TRIP10"><circle class="p" cx="703" cy="1610" r="23.500"/><text class="s" x="703" y="1616">TRIP10</text></g>
<g id="n-DIAPH1"><circle class="p" cx="852" cy="1614" r="23.500"/><text class="s" x="852" y="1620">DIAPH1</text></g>
<g id="n-FBXO22"><circle class="p" cx="909" cy="1640" r="23.500"/><text class="s" x="909" y="1646">FBXO22</text></g>
<g id="n-CAMKK2"><circle class="p" cx="753" cy="1726" r="23.500"/><text class="s" x="753" y="1732">CAMKK2</text></g>
<g id="n-DYRK1A"><circle class="p" cx="647" cy="1732" r="23.500"/><text class="s" x="647" y="1738">DYRK1A</text></g>
<g id="n-CPLANE1"><circle class="p" cx="384" cy="996" r="23.500"/><text class="s" x="384" y="1002">CPLANE1</text></g>
<g id="n-GATAD2A"><circle class="p" cx="597" cy="940" r="23.500"/><text class="s" x="597" y="946">GATAD2A</text></g>
<g id="n-ANKRD12"><circle class="p" cx="344" cy="1035" r="23.500"/><text class="s" x="344" y="1041">ANKRD12</text></g>
<g id="n-SLC45A3"><circle class="p" cx="587" cy="1066" r="23.500"/><text class="s" x="587" y="1072">SLC45A3</text></g>
<g id="n-PDE4DIP"><circle class="p" cx="308" cy="1079" r="23.500"/><text class="s" x="308" y="1085">PDE4DIP</text></g>
<g id="n-TSPAN15"><circle class="p" cx="369" cy="1093" r="23.500"/><text class="s" x="369" y="1099">TSPAN15</text></g>
<g id="n-SLC38A9"><circle class="p" cx="398" cy="1267" r="23.500"/><text class="s" x="398" y="1273">SLC38A9</text></g>
<g id="n-FAM161A"><circle class="p" cx="345" cy="1345" r="23.500"/><text class="s" x="345" y="1351">FAM161A</text></g>
<g id="n-PIP4K2C"><circle class="p" cx="492" cy="1429" r="23.500"/><text class="s" x="492" y="1435">PIP4K2C</text></g>
<g id="n-SAP30BP"><circle class="p" cx="194" cy="1480" r="23.500"/><text class="s" x="194" y="1486">SAP30BP</text></g>
<g id="n-NECTIN3"><circle class="p" cx="540" cy="1595" r="23.500"/><text class="s" x="540" y="1601">NECTIN3</text></g>
<g id="n-CARMIL1"><circle class="p" cx="454" cy="1606" r="23.500"/><text class="s" x="454" y="1612">CARMIL1</text></g>
<g id="n-EPS15L1"><circle class="p" cx="311" cy="1660" r="23.500"/><text class="s" x="311" y="1666">EPS15L1</text></g>
<g id="n-ZC3H12C"><circle class="p" cx="533" cy="1687" r="23.500"/><text class="s" x="533" y="1693">ZC3H12C</text></g>
<g id="n-SLC27A6"><circle class="p" cx="470" cy="1702" r="23.500"/><text class="s" x="470" y="1708">SLC27A6</text></g>
<g id="n-GRAMD1B"><circle class="p" cx="565" cy="1721" r="23.500"/><text class="s" x="565" y="1727">GRAMD1B</text></g>
<g id="n-PHACTR4"><circle class="p" cx="812" cy="938" r="23.500"/><text class="s" x="812" y="944">PHACTR4</text></g>
<g id="n-FASTKD1"><circle class="p" cx="635" cy="975" r="23.500"/><text class="s" x="635" y="981">FASTKD1</text></g>
<g id="n-RTN4IP1"><circle class="p" cx="807" cy="1060" r="23.500"/><text class="s" x="807" y="1066">RTN4IP1</text></g>
<g id="n-SPATS2L"><circle class="p" cx="846" cy="1159" r="23.500"/><text class="s" x="846" y="1165">SPATS2L</text></g>
<g id="n-NDUFAF1"><circle class="p" cx="657" cy="1166" r="23.500"/><text class="s" x="657" y="1172">NDUFAF1</text></g>
<g id="n-PIKFYVE"><circle class="p" cx="720" cy="1181" r="23.500"/><text class="s" x="720" y="1187">PIKFYVE</text></g>
<g id="n-KATNAL1"><circle class="p" cx="715" cy="1235" r="23.500"/><text class="s" x="715" y="1241">KATNAL1</text></g>
<g id="n-METTL14"><circle class="p" cx="1120" cy="1230" r="23.500"/><text class="s" x="1120" y="1236">METTL14</text></g>
<g id="n-FAM102A"><circle class="p" cx="746" cy="1284" r="23.500"/><text class="s" x="746" y="1290">FAM102A</text></g>
<g id="n-TMEM123"><circle class="p" cx="912" cy="1317" r="23.500"/><text class="s" x="912" y="1323">TMEM123</text></g>
<g id="n-CSNK2A2"><circle class="p" cx="939" cy="1400" r="23.500"/><text class="s" x="939" y="1406">CSNK2A2</text></g>
<g id="n-EPB41L2"><circle class="p" cx="986" cy="1444" r="23.500"/><text class="s" x="986" y="1450">EPB41L2</text></g>
<g id="n-TMEM192"><circle class="p" cx="657" cy="1464" r="23.500"/><text class="s" x="657" y="1470">TMEM192</text></g>
<g id="n-IGF2BP2"><circle class="p" cx="648" cy="1653" r="23.500"/><text class="s" x="648" y="1659">IGF2BP2</text></g>
<g id="n-KIAA1522"><circle class="p" cx="339" cy="1487" r="23.500"/><text class="s" x="339" y="1493">KIAA1522</text></g>
<g id="n-SLC22A23"><circle class="p" cx="494" cy="1768" r="23.500"/><text class="s" x="494" y="1774">SLC22A23</text></g>
<g id="n-ARHGAP42"><circle class="p" cx="837" cy="1348" r="23.500"/><text class="s" x="837" y="1354">ARHGAP42</text></g>
<g id="n-TMEM150C"><circle class="p" cx="1063" cy="1462" r="23.500"/><text class="s" x="1063" y="1468">TMEM150C</text></g>
<g id="n-C16orf70"><circle class="p" cx="807" cy="1510" r="23.500"/><text class="s" x="807" y="1516">C16orf70</text></g>
<g id="n-PHOSPHO2"><circle class="p" cx="650" cy="1520" r="23.500"/><text class="s" x="650" y="1526">PHOSPHO2</text></g>
<g id="n-ARHGAP12"><circle class="p" cx="637" cy="1789" r="23.500"/><text class="s" x="637" y="1795">ARHGAP12</text></g>
<g id="n-E9240"><circle class="p" cx="588" cy="835" r="23.500"/><text class="s" x="588" y="841">ENSSSCG00000009240</text></g>
<g id="n-E25060"><circle class="p" cx="266" cy="930" r="23.500"/><text class="s" x="266" y="936">ENSSSCG00000025060</text></g>
<g id="n-E22128"><circle class="p" cx="208" cy="1049" r="23.500"/><text class="s" x="208" y="1055">ENSSSCG00000022128</text></g>
<g id="n-E5643"><circle class="p" cx="184" cy="1197" r="23.500"/><text class="s" x="184" y="1203">ENSSSCG00000005643</text></g>
<g id="n-E32297"><circle class="p" cx="428" cy="1741" r="23.500"/><text class="s" x="428" y="1747">ENSSSCG00000032297</text></g>
<g id="n-E12560"><circle class="p" cx="805" cy="842" r="23.500"/><text class="s" x="805" y="848">ENSSSCG00000012560</text></g>
<g id="n-E14031"><circle class="p" cx="849" cy="880" r="23.500"/><text class="s" x="849" y="886">ENSSSCG00000014031</text></g>
<g id="n-E29199"><circle class="p" cx="933" cy="917" r="23.500"/><text class="s" x="933" y="923">ENSSSCG00000029199</text></g>
<g id="n-E1097"><circle class="p" cx="988" cy="976" r="23.500"/><text class="s" x="988" y="982">ENSSSCG00000001097</text></g>
<g id="n-E34190"><circle class="p" cx="1027" cy="1056" r="23.500"/><text class="s" x="1027" y="1062">ENSSSCG00000034190</text></g>
<g id="n-E46428"><circle class="p" cx="1065" cy="1105" r="23.500"/><text class="s" x="1065" y="1111">ENSSSCG00000046428</text></g>
<g id="n-E37597"><circle class="p" cx="1102" cy="1570" r="23.500"/><text class="s" x="1102" y="1576">ENSSSCG00000037597</text></g>
<g id="n-E32146"><circle class="p" cx="726" cy="1807" r="23.500"/><text class="s" x="726" y="1813">ENSSSCG00000032146</text></g>
<g id="n-MSTRG77580"><circle class="o" cx="658" cy="1316" r="38"/><text class="s" x="658" y="1322">MSTRG.77580.2</text></g>
</g>
<g id="net2-connectors" class="ce2">
<path d="M1868 1314L1803 1042"/><path d="M1868 1314L1996 1047"/><path d="M1868 1314L1653 1100"/><path d="M1868 1314L1897 1128"/><path d="M1868 1314L2031 1172"/><path d="M1868 1314L1597 1193"/><path d="M1868 1314L2131 1214"/><path d="M1868 1314L1555 1274"/><path d="M1868 1314L2155 1295"/><path d="M1868 1314L1586 1377"/><path d="M1868 1314L2063 1389"/><path d="M1868 1314L1701 1411"/><path d="M1868 1314L2094 1484"/><path d="M1868 1314L1675 1527"/><path d="M1868 1314L1870 1522"/><path d="M1868 1314L2015 1574"/><path d="M1868 1314L1779 1601"/>
</g>
<g id="net2-nodes">
<g id="m-GORAB"><circle class="p" cx="2131" cy="1214" r="46.500"/><text class="l" x="2131" y="1224">GORAB</text></g>
<g id="m-GOSR1"><circle class="p" cx="1597" cy="1193" r="46.500"/><text class="l" x="1597" y="1203">GOSR1</text></g>
<g id="m-E16226"><circle class="p" cx="1653" cy="1100" r="46.500"/><text class="l" x="1653" y="1110">ENSSSCG00000016226</text></g>
<g id="m-DZANK1"><circle class="p" cx="1803" cy="1042" r="46.500"/><text class="l" x="1803" y="1052">DZANK1</text></g>
<g id="m-PPM1D"><circle class="p" cx="1996" cy="1047" r="46.500"/><text class="l" x="1996" y="1057">PPM1D</text></g>
<g id="m-POLR1H"><circle class="p" cx="1897" cy="1128" r="46.500"/><text class="l" x="1897" y="1138">POLR1H</text></g>
<g id="m-SRPRA"><circle class="p" cx="2031" cy="1172" r="46.500"/><text class="l" x="2031" y="1182">SRPRA</text></g>
<g id="m-E16687"><circle class="p" cx="1555" cy="1274" r="46.500"/><text class="l" x="1555" y="1284">ENSSSCG00000016687</text></g>
<g id="m-E13471"><circle class="p" cx="2155" cy="1295" r="46.500"/><text class="l" x="2155" y="1305">ENSSSCG00000013471</text></g>
<g id="m-CENPW"><circle class="p" cx="1586" cy="1377" r="46.500"/><text class="l" x="1586" y="1387">CENPW</text></g>
<g id="m-CPNE2"><circle class="p" cx="2063" cy="1389" r="46.500"/><text class="l" x="2063" y="1399">CPNE2</text></g>
<g id="m-STK26"><circle class="p" cx="1701" cy="1411" r="46.500"/><text class="l" x="1701" y="1421">STK26</text></g>
<g id="m-E290"><circle class="p" cx="2094" cy="1484" r="46.500"/><text class="l" x="2094" y="1494">ENSSSCG00000000290</text></g>
<g id="m-ATF6"><circle class="p" cx="1675" cy="1527" r="46.500"/><text class="l" x="1675" y="1537">ATF6</text></g>
<g id="m-USP14"><circle class="p" cx="1870" cy="1522" r="46.500"/><text class="l" x="1870" y="1532">USP14</text></g>
<g id="m-WSB2"><circle class="p" cx="2015" cy="1574" r="46.500"/><text class="l" x="2015" y="1584">WSB2</text></g>
<g id="m-E6564"><circle class="p" cx="1779" cy="1601" r="46.500"/><text class="l" x="1779" y="1611">ENSSSCG00000006564</text></g>
<g id="m-MSTRG43064"><circle class="o" cx="1868" cy="1314" r="75"/><text class="l" x="1868" y="1324">MSTRG.43064.3</text></g>
</g>
</svg>
